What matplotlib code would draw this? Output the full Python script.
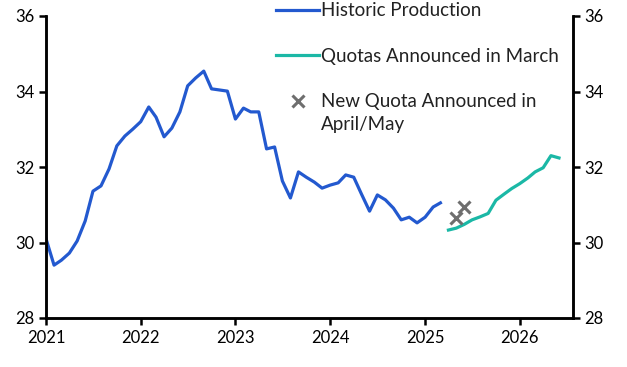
import matplotlib
matplotlib.use("Agg")
import matplotlib.pyplot as plt
import matplotlib.dates as mdates
import pandas as pd

plt.rcParams["font.family"] = ["Lato", "DejaVu Sans"]

# monthly values
historic = [30.1, 29.4, 29.53, 29.72, 30.04, 30.57, 31.36, 31.5, 31.95, 32.56, 32.82, 33.0,
            33.2, 33.59, 33.32, 32.8, 33.03, 33.46, 34.15, 34.36, 34.54, 34.07, 34.04, 34.01,
            33.27, 33.56, 33.46, 33.46, 32.48, 32.53, 31.63, 31.18, 31.87, 31.73, 31.6, 31.44,
            31.52, 31.58, 31.79, 31.73, 31.28, 30.83, 31.26, 31.13, 30.91, 30.6, 30.67, 30.52,
            30.67, 30.94, 31.05]
march_quota = [30.33, 30.38, 30.48, 30.6, 30.68, 30.77, 31.12, 31.28, 31.43, 31.56,
               31.71, 31.87, 31.98, 32.3, 32.24]
new_quota = [30.64, 30.94]

hist_dates = pd.date_range("2021-01-01", periods=len(historic), freq="MS")
march_dates = pd.date_range("2025-04-01", periods=len(march_quota), freq="MS")
new_dates = pd.date_range("2025-05-01", periods=len(new_quota), freq="MS")

BLUE = "#2359cf"
TEAL = "#1bb8a6"
GREY = "#6e6e6e"

fig = plt.figure(figsize=(6.27, 3.67), dpi=100)
ax = fig.add_axes([46 / 627, 1 - 318 / 367, (573 - 46) / 627, (318 - 16) / 367])

ax.plot(hist_dates, historic, color=BLUE, lw=2.3, label="Historic Production")
ax.plot(march_dates, march_quota, color=TEAL, lw=2.3, label="Quotas Announced in March")
ax.plot(new_dates, new_quota, ls="none", marker="x", ms=8, mew=2.2, color=GREY,
        label="New Quota Announced in")

ax.set_ylim(28, 36)
ax.set_yticks(range(28, 37, 2))
ax.set_xlim(pd.Timestamp("2021-01-01"), pd.Timestamp("2026-07-25"))
ax.xaxis.set_major_locator(mdates.YearLocator())
ax.xaxis.set_major_formatter(mdates.DateFormatter("%Y"))

ax2 = ax.twinx()
ax2.set_ylim(28, 36)
ax2.set_yticks(range(28, 37, 2))

for a in (ax, ax2):
    a.spines["top"].set_visible(False)
    for s in ("left", "right", "bottom"):
        a.spines[s].set_linewidth(1.8)
    a.tick_params(width=1.8, length=5, labelsize=12, colors="black")
ax.tick_params(axis="y", pad=3)
ax2.tick_params(axis="y", pad=3)

leg = ax2.legend(*ax.get_legend_handles_labels(), loc="upper left",
                 bbox_to_anchor=((276 - 46) / 527, 1.045), frameon=False,
                 fontsize=13.5, handlelength=2.3, handletextpad=0.1, labelspacing=1.52,
                 borderaxespad=0, borderpad=0)
for t in leg.get_texts():
    t.set_color("#222222")

# second line of the last legend label, hung under its first line
ax2.annotate("April/May", xy=(0, 0), xycoords=leg.get_texts()[2], xytext=(0, -4),
             textcoords="offset points", va="top", ha="left", fontsize=13.5,
             color="#222222", zorder=10)

fig.savefig("out.png", dpi=100)
